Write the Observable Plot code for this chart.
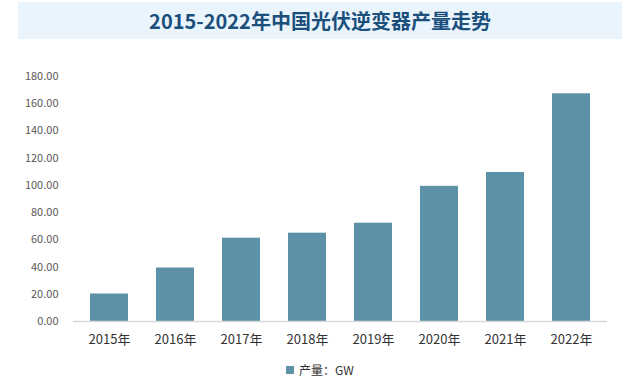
<!DOCTYPE html>
<html>
<head>
<meta charset="utf-8">
<script src="https://cdn.jsdelivr.net/npm/d3@7"></script>
<script src="https://cdn.jsdelivr.net/npm/@observablehq/plot@0.6"></script>
<style>
  html, body { margin: 0; padding: 0; background: #ffffff; }
  #wrap { position: relative; width: 637px; height: 382px; overflow: hidden; font-family: "Noto Sans CJK SC", "Noto Sans", sans-serif; }
  #title { position: absolute; left: 18px; top: 2px; width: 604px; height: 37px; background: #eaf4fc;
           color: #1b4f7c; font-size: 20px; font-weight: bold; text-align: center; line-height: 37px;
           font-family: "Noto Sans CJK SC", sans-serif; }
  #legend { position: absolute; left: 286px; top: 361px; font-size: 12px; color: #333333; line-height: 18px; display: flex; align-items: center; }
  #legend .sw { display: inline-block; width: 8px; height: 8px; background: #5d91a7; margin-right: 5px; }
  #chart { position: absolute; left: 0; top: 0; }
</style>
</head>
<body>
<div id="wrap">
  <div id="chart"></div>
  <div id="title">2015-2022年中国光伏逆变器产量走势</div>
  <div id="legend"><span class="sw"></span><span>产量：GW</span></div>
</div>
<script>
const years = ["2015年", "2016年", "2017年", "2018年", "2019年", "2020年", "2021年", "2022年"];
const output = [20.2, 39.3, 61.2, 64.9, 72.2, 99.3, 109.5, 167.3];
const yTicks = [0, 20, 40, 60, 80, 100, 120, 140, 160, 180];
const seriesName = "产量：GW";

const data = years.map((y, i) => ({year: y, value: output[i]}));

const chart = Plot.plot({
  width: 637,
  height: 382,
  marginLeft: 73,
  marginRight: 30,
  marginTop: 76,
  marginBottom: 61,
  style: {fontFamily: "'Noto Sans CJK SC', 'Noto Sans', sans-serif", background: "transparent"},
  x: {domain: years, paddingInner: 0.43, paddingOuter: 0.215, label: null},
  y: {domain: [0, 180], label: null},
  marks: [
    Plot.barY(data, {x: "year", y: "value", fill: "#5d91a7"}),
    Plot.ruleY([0], {stroke: "#d9d9d9", strokeWidth: 1.5}),
    Plot.axisY({ticks: yTicks, tickSize: 0, tickPadding: 15, tickFormat: d => d.toFixed(2), fontSize: 11, color: "#595959", label: null}),
    Plot.axisX({tickSize: 0, tickPadding: 13, fontSize: 13, color: "#333333", label: null})
  ]
});
document.getElementById("chart").appendChild(chart);
</script>
</body>
</html>
